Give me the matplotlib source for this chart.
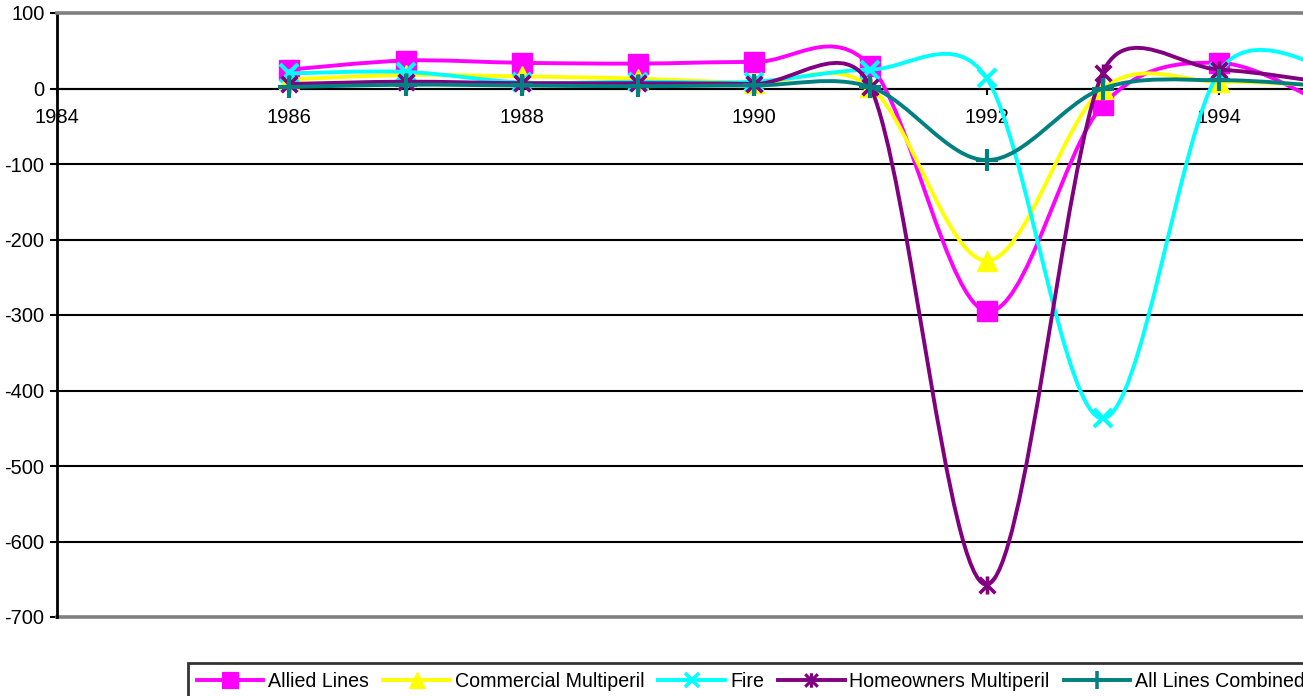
import numpy as np
import matplotlib
matplotlib.use("Agg")
import matplotlib.pyplot as plt
from matplotlib.path import Path
from matplotlib.patches import PathPatch
from matplotlib.lines import Line2D

plt.rcParams['font.family'] = ['Liberation Sans', 'DejaVu Sans']
plt.rcParams['axes.unicode_minus'] = False

# ---- data -------------------------------------------------------------
years = [1986, 1987, 1988, 1989, 1990, 1991, 1992, 1993, 1994, 1995]
allied_lines = [25, 37, 34, 33, 35, 30, -295, -22, 34, -28]
commercial_multiperil = [12, 18, 16, 13, 7, 2, -228, 0, 9, 3]
fire = [20, 22, 8, 9, 9, 25, 14, -437, 22, 25]
homeowners_multiperil = [6, 9, 7, 7, 6, 2, -657, 21, 25, 6]
all_lines_combined = [2, 5, 4, 3, 4, 2, -95, 0, 11, 2]

series_names = ["Allied Lines", "Commercial Multiperil", "Fire",
                "Homeowners Multiperil", "All Lines Combined"]
x_ticks = [1984, 1986, 1988, 1990, 1992, 1994]
y_ticks = [100, 0, -100, -200, -300, -400, -500, -600, -700]

# ---- styles -----------------------------------------------------------
colors = ["#FF00FF", "#FFFF00", "#00FFFF", "#800080", "#008080"]
asterisk = Path([(-1, -1), (1, 1), (-1, 1), (1, -1), (0, -1.15), (0, 1.15)],
                [Path.MOVETO, Path.LINETO, Path.MOVETO, Path.LINETO,
                 Path.MOVETO, Path.LINETO])
markers = ["s", "^", "x", asterisk, "+"]
marker_sizes = [14, 15, 13, 13, 16]
marker_edge = [1, 1, 3, 2.6, 3]
line_width = 2.8

all_series = [allied_lines, commercial_multiperil, fire,
              homeowners_multiperil, all_lines_combined]

fig = plt.figure(figsize=(13.03, 6.96), dpi=100)
ax = fig.add_axes([57 / 1303, 79 / 696, 1246 / 1303, 604 / 696])
ax.set_xlim(1984, 1984 + 1246 / 116.2)
ax.set_ylim(-700, 100)


def smooth_path(xs, ys):
    """Bezier path through the points, built like a spreadsheet smoothed line."""
    pts_data = np.column_stack([xs, ys]).astype(float)
    pts = ax.transData.transform(pts_data)
    n = len(pts)
    verts = [pts[0]]
    codes = [Path.MOVETO]
    for i in range(n - 1):
        p1, p2 = pts[i], pts[i + 1]
        p0 = pts[i - 1] if i > 0 else p1
        p3 = pts[i + 2] if i + 2 < n else p2
        d12 = np.hypot(*(p2 - p1))
        d02 = np.hypot(*(p2 - p0))
        d13 = np.hypot(*(p3 - p1))
        f1 = 1 / 6 if d02 / 6 < d12 / 2 else (d12 / 2) / d02
        f2 = 1 / 6 if d13 / 6 < d12 / 2 else (d12 / 2) / d13
        b1 = p1 + (p2 - p0) * f1
        b2 = p2 - (p3 - p1) * f2
        verts += [b1, b2, p2]
        codes += [Path.CURVE4] * 3
    verts = ax.transData.inverted().transform(np.array(verts))
    return Path(verts, codes)


for i, vals in enumerate(all_series):
    patch = PathPatch(smooth_path(years, vals), fill=False,
                      edgecolor=colors[i], lw=line_width,
                      capstyle="round", joinstyle="round",
                      zorder=3 + i)
    ax.add_patch(patch)
    ax.plot(years, vals, linestyle="none", marker=markers[i],
            markersize=marker_sizes[i], color=colors[i],
            markerfacecolor=colors[i], markeredgecolor=colors[i],
            markeredgewidth=marker_edge[i], zorder=3.5 + i)

# ---- axes styling -----------------------------------------------------
ax.set_yticks(y_ticks)
ax.set_yticklabels([str(v) for v in y_ticks])
ax.set_xticks(x_ticks)
ax.set_xticklabels([str(v) for v in x_ticks])
ax.yaxis.grid(True, color="black", lw=1.5, zorder=1)
ax.set_axisbelow(True)

ax.spines["right"].set_visible(False)
ax.spines["top"].set_color("#808080")
ax.spines["top"].set_linewidth(2.6)
ax.spines["left"].set_color("black")
ax.spines["left"].set_linewidth(2)
ax.spines["bottom"].set_position(("data", 0))
ax.spines["bottom"].set_color("black")
ax.spines["bottom"].set_linewidth(1.5)
ax.axhline(-700, color="#808080", lw=2.6, zorder=2.5, clip_on=False)

ax.tick_params(axis="y", direction="out", length=5, width=1.5,
               labelsize=14.5, pad=4, colors="black")
ax.tick_params(axis="x", direction="out", length=4, width=1.5,
               labelsize=14.5, pad=10, colors="black")

# ---- legend -----------------------------------------------------------
handles = [Line2D([], [], color=colors[i], lw=line_width, marker=markers[i],
                  markersize=marker_sizes[i] * 0.8,
                  markerfacecolor=colors[i], markeredgecolor=colors[i],
                  markeredgewidth=marker_edge[i] * 0.85)
           for i in range(len(series_names))]
leg = fig.legend(handles, series_names, loc="upper left",
                 bbox_to_anchor=(188 / 1303, 1 - 663 / 696),
                 borderaxespad=0, ncol=5, fontsize=14.1,
                 handlelength=3.4, handletextpad=0.25, columnspacing=0.72,
                 borderpad=0.45, frameon=True, fancybox=False)
leg.get_frame().set_edgecolor("black")
leg.get_frame().set_linewidth(2)

fig.savefig("out.png", dpi=100)
